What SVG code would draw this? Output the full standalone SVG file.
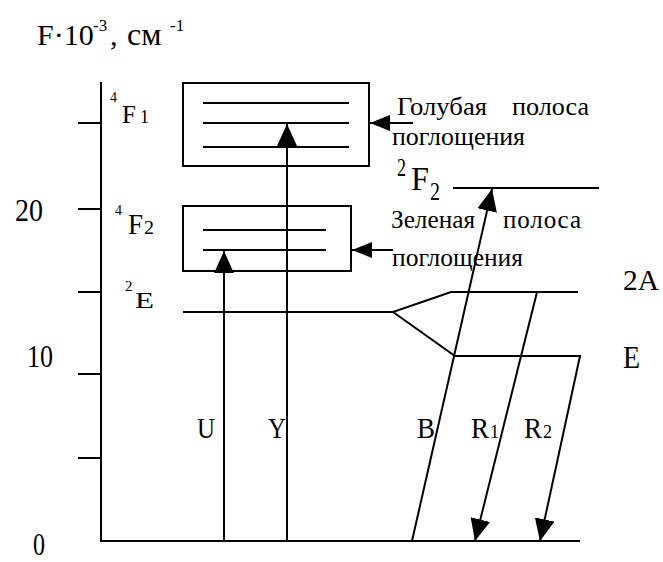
<svg xmlns="http://www.w3.org/2000/svg" width="663" height="562" viewBox="0 0 663 562">
<style>
.ln{stroke:#000;stroke-width:2;fill:none}
text{font-family:'Liberation Serif','DejaVu Serif',serif;fill:#000}
</style>
<defs>
<marker id="ah" markerUnits="userSpaceOnUse" markerWidth="22" markerHeight="20" refX="22" refY="10" orient="auto"><path d="M0,0 L22,10 L0,20 Z" fill="#000"/></marker>
<marker id="ah2" markerUnits="userSpaceOnUse" markerWidth="20" markerHeight="16" refX="20" refY="8" orient="auto"><path d="M0,0 L20,8 L0,16 Z" fill="#000"/></marker>
</defs>
<rect width="663" height="562" fill="#fff"/>
<g id="axis">
<path class="ln" d="M101,82 V541 H580"/>
<path class="ln" d="M78,123 H101 M78,209 H101 M78,292 H101 M78,374 H101 M78,458 H101"/>
<text font-size="30" x="37" y="45">F·10</text>
<text font-size="17" x="93" y="31">-3</text>
<text font-size="30" x="110" y="45">,</text>
<text font-size="32" x="127" y="45">см</text>
<text font-size="17" x="170" y="31">-1</text>
<text font-size="32" x="15" y="221" textLength="28" lengthAdjust="spacingAndGlyphs">20</text>
<text font-size="32" x="27" y="367" textLength="26" lengthAdjust="spacingAndGlyphs">10</text>
<text font-size="32" x="33" y="555" textLength="12" lengthAdjust="spacingAndGlyphs">0</text>
</g>
<g id="level-4F1">
<rect class="ln" x="183" y="83" width="186" height="83"/>
<path class="ln" d="M203,103 H349 M203,123 H349 M203,147 H349"/>
<text font-size="14" x="110" y="102">4</text>
<text font-size="25" x="122" y="123">F</text>
<text font-size="18" x="140" y="123">1</text>
</g>
<g id="level-4F2">
<rect class="ln" x="183" y="206" width="168" height="65"/>
<path class="ln" d="M203,230 H326 M203,250 H326"/>
<text font-size="14" x="115" y="215">4</text>
<text font-size="30" x="128" y="234" textLength="15" lengthAdjust="spacingAndGlyphs">F</text>
<text font-size="18" x="144" y="234" textLength="10" lengthAdjust="spacingAndGlyphs">2</text>
</g>
<g id="level-2E">
<path class="ln" d="M183,312 H393 L451,292 H578 M393,312 L455,356 H581"/>
<text font-size="15" x="125" y="291">2</text>
<text font-size="23" x="135" y="308" textLength="19" lengthAdjust="spacingAndGlyphs">E</text>
<text font-size="30" x="623" y="290" textLength="36" lengthAdjust="spacingAndGlyphs">2A</text>
<text font-size="32" x="623" y="368" textLength="17" lengthAdjust="spacingAndGlyphs">E</text>
</g>
<g id="level-2F2">
<path class="ln" d="M453,188 H599"/>
<text font-size="26" x="397" y="176" textLength="9" lengthAdjust="spacingAndGlyphs">2</text>
<text font-size="33" x="411" y="190" textLength="18" lengthAdjust="spacingAndGlyphs">F</text>
<text font-size="26" x="430" y="200" textLength="10" lengthAdjust="spacingAndGlyphs">2</text>
</g>
<g id="label-blue">
<text font-size="25" x="397" y="115" textLength="90" lengthAdjust="spacingAndGlyphs">Голубая</text>
<text font-size="25" x="512" y="115" textLength="77" lengthAdjust="spacingAndGlyphs">полоса</text>
<text font-size="25" x="392" y="145" textLength="133" lengthAdjust="spacingAndGlyphs">поглощения</text>
</g>
<g id="label-green">
<text font-size="25" x="391" y="228" textLength="84" lengthAdjust="spacingAndGlyphs">Зеленая</text>
<text font-size="25" x="503" y="228" textLength="78" lengthAdjust="spacing">полоса</text>
<text font-size="25" x="392" y="266" textLength="131" lengthAdjust="spacingAndGlyphs">поглощения</text>
</g>
<g id="transition-labels">
<text font-size="30" x="197" y="438" textLength="18" lengthAdjust="spacingAndGlyphs">U</text>
<text font-size="30" x="268" y="438" textLength="18" lengthAdjust="spacingAndGlyphs">Y</text>
<text font-size="30" x="417" y="438" textLength="18" lengthAdjust="spacingAndGlyphs">B</text>
<text font-size="30" x="471" y="438" textLength="18" lengthAdjust="spacingAndGlyphs">R</text>
<text font-size="18" x="490" y="438">1</text>
<text font-size="30" x="524" y="438" textLength="18" lengthAdjust="spacingAndGlyphs">R</text>
<text font-size="18" x="543" y="438">2</text>
</g>
<g id="connectors">
<line class="ln" x1="224" y1="541" x2="224" y2="251" marker-end="url(#ah)"/>
<line class="ln" x1="287" y1="541" x2="287" y2="124" marker-end="url(#ah)"/>
<line class="ln" x1="412" y1="541" x2="492" y2="189" marker-end="url(#ah)"/>
<line class="ln" x1="537" y1="292" x2="475" y2="541" marker-end="url(#ah)"/>
<line class="ln" x1="580" y1="356" x2="540" y2="541" marker-end="url(#ah)"/>
<line class="ln" x1="413" y1="123" x2="370" y2="123" marker-end="url(#ah2)"/>
<line class="ln" x1="393" y1="250" x2="352" y2="250" marker-end="url(#ah2)"/>
</g>
</svg>
